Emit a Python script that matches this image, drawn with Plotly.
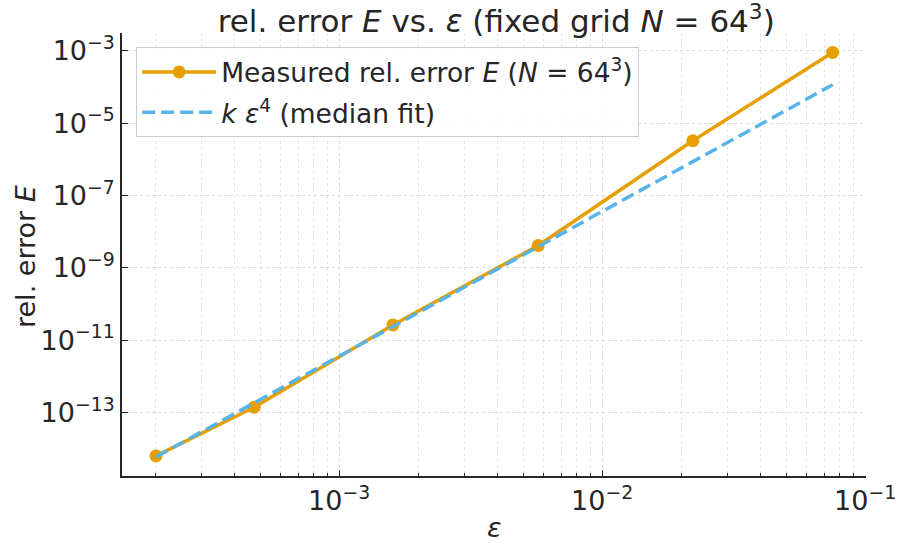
import plotly.graph_objects as go

# ---- data ----
eps = [2.01e-4, 4.75e-4, 1.60e-3, 5.71e-3, 2.21e-2, 7.52e-2]
err = [6.3e-15, 1.39e-13, 2.63e-11, 4.11e-9, 3.24e-6, 8.97e-4]
fit = [5.9e-15, 1.84e-13, 2.38e-11, 3.84e-9, 8.55e-7, 1.15e-4]

x_tickvals = [1e-3, 1e-2, 1e-1]
x_ticktext = ["10<sup>−3</sup>", "10<sup>−2</sup>", "10<sup>−1</sup>"]
y_tickvals = [1e-3, 1e-5, 1e-7, 1e-9, 1e-11, 1e-13]
y_ticktext = ["10<sup>−3</sup>", "10<sup>−5</sup>", "10<sup>−7</sup>",
              "10<sup>−9</sup>", "10<sup>−11</sup>", "10<sup>−13</sup>"]
x_minor = [m * 10.0 ** d for d in (-4, -3, -2) for m in range(2, 10)]

ORANGE = "#E69F00"
BLUE = "#56B4E9"
TXT = "#262626"
FONT = "DejaVu Sans"
FS = 27

fig = go.Figure()
fig.add_trace(go.Scatter(
    x=eps, y=err, mode="lines+markers",
    name="Measured rel. error <i>E</i> (<i>N</i> = 64<sup>3</sup>)",
    line=dict(color=ORANGE, width=3.5),
    marker=dict(color=ORANGE, size=13),
    legendgroup="a",
))
fig.add_trace(go.Scatter(
    x=eps, y=fit, mode="lines",
    name="<i>k ε</i><sup>4</sup> (median fit)",
    line=dict(color=BLUE, width=3.5, dash="13px,6px"),
    legendgroup="b",
))

fig.update_layout(
    width=899, height=545,
    margin=dict(l=122, r=33, t=33, b=69, autoexpand=False),
    paper_bgcolor="white", plot_bgcolor="white",
    font=dict(family=FONT, size=FS, color=TXT),
    title=dict(text="rel. error <i>E</i> vs. <i>ε</i> (fixed grid <i>N</i> = 64<sup>3</sup>)",
               x=0.552, xanchor="center", y=0.961, yanchor="middle",
               font=dict(size=31, color=TXT)),
    showlegend=True,
    legend=dict(x=0.019, y=0.968, xanchor="left", yanchor="top",
                bgcolor="rgba(255,255,255,0.85)", bordercolor="#cccccc", borderwidth=1,
                font=dict(size=26.5, color=TXT), tracegroupgap=3, itemwidth=74),
    hovermode=False,
    annotations=[
        dict(text="<i>ε</i>", xref="paper", yref="paper", x=0.5, y=-0.117,
             xanchor="center", yanchor="middle", showarrow=False,
             font=dict(size=FS, color=TXT)),
        dict(text="rel. error <i>E</i>", xref="paper", yref="paper", x=-0.130, y=0.495,
             xanchor="center", yanchor="middle", showarrow=False, textangle=-90,
             font=dict(size=FS, color=TXT)),
    ],
)

fig.update_xaxes(
    type="log", range=[-3.826, -0.997], automargin=False,
    tickvals=x_tickvals, ticktext=x_ticktext,
    ticks="inside", ticklen=6, tickwidth=1, tickcolor="#262626",
    showline=True, linecolor="#262626", linewidth=1.5, mirror=False,
    showgrid=True, gridcolor="#d9d9d9", griddash="dot", gridwidth=1,
    minor=dict(tickvals=x_minor, ticks="inside", ticklen=3.5, tickcolor="#262626",
               showgrid=True, gridcolor="#e3e3e3", griddash="dot", gridwidth=1),
    zeroline=False,
    tickfont=dict(size=FS, color=TXT),
)
fig.update_yaxes(
    type="log", range=[-14.757, -2.51], automargin=False,
    tickvals=y_tickvals, ticktext=y_ticktext,
    ticks="inside", ticklen=6, tickwidth=1, tickcolor="#262626",
    showline=True, linecolor="#262626", linewidth=1.5, mirror=False,
    showgrid=True, gridcolor="#d9d9d9", griddash="dot", gridwidth=1,
    zeroline=False,
    tickfont=dict(size=FS, color=TXT),
)

# remove the browser's default 8px page margin so the figure sits at (0, 0)
fig.write_html("out.html", config={"displayModeBar": False},
               post_script="document.body.style.margin='0';")
